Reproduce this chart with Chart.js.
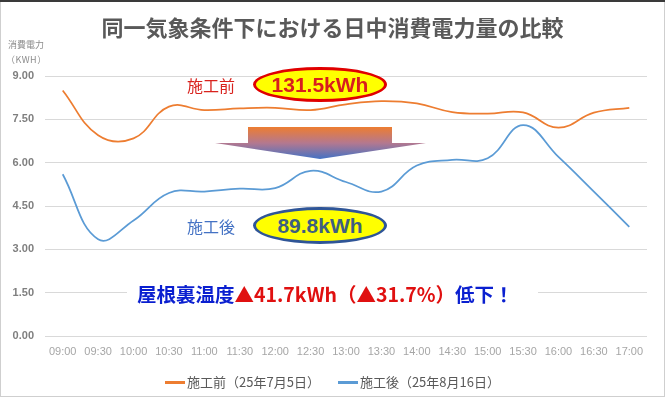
<!DOCTYPE html>
<html lang="ja">
<head>
<meta charset="utf-8">
<script src="https://cdn.jsdelivr.net/npm/chart.js@4/dist/chart.umd.min.js"></script>
<style>
  html, body { margin: 0; padding: 0; background: #fff; }
  #wrap { position: relative; width: 665px; height: 398px; overflow: hidden; background: #fff;
          font-family: "Noto Sans CJK JP", "Noto Sans", sans-serif; }
  #wrap:before { content: ""; position: absolute; left: 0; top: 0; width: 665px; height: 2px; background: #3a3a3a; z-index: 5; }
  #frame { position: absolute; left: 0; top: 0; width: 663px; height: 396px; border: 1px solid #cfcfcf; border-top: none; pointer-events: none; z-index: 4; }
  canvas { position: absolute; left: 0; top: 0; }
  .abs { position: absolute; white-space: nowrap; z-index: 3; }
  #title { left: 0; width: 665px; top: 12px; text-align: center; font-size: 22px; font-weight: 700; color: #595959; line-height: 28px; }
  #ytitle1 { left: 8px; top: 39px; font-size: 9px; color: #8c8c8c; line-height: 12px; }
  #ytitle2 { left: 6px; top: 54px; font-size: 9px; color: #8c8c8c; line-height: 12px; letter-spacing: 0.5px; }
  .lab { font-size: 16px; line-height: 20px; }
  #preLab { left: 187px; top: 75px; color: #d9231e; }
  #postLab { left: 187px; top: 216px; color: #4472c4; }
  .ell { position: absolute; z-index: 3; border-radius: 50%; background: #ffff00; box-sizing: border-box;
         display: flex; align-items: center; justify-content: center;
         font-family: "Liberation Sans", Arial, sans-serif; font-weight: 700; font-size: 21px; }
  #preEll { left: 253px; top: 67px; width: 134px; height: 35px; border: 3px solid #e00000; color: #d81e1e; }
  #postEll { left: 253px; top: 207px; width: 134px; height: 37px; border: 3px solid #2f5597; color: #3e5f80; }
  #summary { left: 127px; top: 281px; padding: 0 24px 0 10px; background: #fff; font-size: 19.5px; font-weight: 700; line-height: 26px; color: #0a1fd0; }
  #summary .r { color: #e01010; }
  #arrow { position: absolute; left: 0; top: 0; z-index: 2; }
  #legend { left: 0; width: 665px; top: 373px; text-align: center; font-size: 13px; color: #595959; line-height: 18px; }
  #legend span.item { display: inline-block; margin: 0 9px; }
  #legend i { display: inline-block; width: 20px; height: 3px; vertical-align: middle; margin-right: 2px; position: relative; top: -1px; }
</style>
</head>
<body>
<div id="wrap">
  <canvas id="c" width="665" height="398"></canvas>
  <div id="frame"></div>
  <div class="abs" id="title">同一気象条件下における日中消費電力量の比較</div>
  <div class="abs" id="ytitle1">消費電力</div>
  <div class="abs" id="ytitle2">（KWH）</div>
  <div class="abs lab" id="preLab">施工前</div>
  <div class="ell" id="preEll">131.5kWh</div>
  <svg id="arrow" width="665" height="398">
    <defs>
      <linearGradient id="g" x1="0" y1="127" x2="0" y2="159" gradientUnits="userSpaceOnUse">
        <stop offset="0" stop-color="#ed7d31"/>
        <stop offset="0.5" stop-color="#b4788f"/>
        <stop offset="1" stop-color="#4472c4"/>
      </linearGradient>
    </defs>
    <polygon points="248,127 392,127 392,143 426,143 320,159 215,143 248,143" fill="url(#g)"/>
  </svg>
  <div class="abs lab" id="postLab">施工後</div>
  <div class="ell" id="postEll">89.8kWh</div>
  <div class="abs" id="summary">屋根裏温度<span class="r">▲41.7kWh（▲31.7%）</span>低下！</div>
  <div class="abs" id="legend"><span class="item"><i style="background:#ed7d31"></i>施工前（25年7月5日）</span><span class="item"><i style="background:#5b9bd5"></i>施工後（25年8月16日）</span></div>
</div>
<script>
const categories = ["09:00","09:30","10:00","10:30","11:00","11:30","12:00","12:30","13:00","13:30","14:00","14:30","15:00","15:30","16:00","16:30","17:00"];
const seriesBefore = [8.5, 6.95, 6.84, 7.94, 7.82, 7.88, 7.9, 7.82, 8.02, 8.13, 8.05, 7.75, 7.7, 7.74, 7.21, 7.73, 7.9];
const seriesAfter = [5.6, 3.35, 4.0, 4.95, 5.0, 5.1, 5.12, 5.72, 5.33, 5.0, 5.9, 6.1, 6.15, 7.3, 6.2, 5.0, 3.78];
const seriesNames = ["施工前（25年7月5日）", "施工後（25年8月16日）"];
const yTicks = [0, 1.5, 3, 4.5, 6, 7.5, 9];

new Chart(document.getElementById('c'), {
  type: 'line',
  data: {
    labels: categories,
    datasets: [
      { label: seriesNames[0], data: seriesBefore, borderColor: '#ed7d31', borderWidth: 1.75, pointRadius: 0, tension: 0.42, fill: false },
      { label: seriesNames[1], data: seriesAfter, borderColor: '#5b9bd5', borderWidth: 1.75, pointRadius: 0, tension: 0.42, fill: false }
    ]
  },
  options: {
    responsive: false,
    animation: false,
    layout: { padding: { top: 76, right: 18, bottom: 32, left: 0 } },
    plugins: { legend: { display: false }, title: { display: false }, tooltip: { enabled: false } },
    scales: {
      x: {
        offset: true,
        grid: { display: false, drawTicks: false },
        border: { display: false },
        ticks: { color: '#a6a6a6', font: { family: 'Liberation Sans', size: 11 }, padding: 9, maxRotation: 0, autoSkip: false },
        afterFit: s => { s.height = 30; }
      },
      y: {
        min: yTicks[0], max: yTicks[yTicks.length - 1],
        afterBuildTicks: s => { s.ticks = yTicks.map(v => ({ value: v })); },
        grid: { color: '#d9d9d9', lineWidth: 1, drawTicks: false },
        border: { display: false },
        ticks: { color: '#7f7f7f', font: { family: 'Liberation Sans', size: 11, weight: 'bold' }, padding: 11, callback: v => Number(v).toFixed(2) },
        afterFit: s => { s.width = 45; }
      }
    }
  }
});
</script>
</body>
</html>
